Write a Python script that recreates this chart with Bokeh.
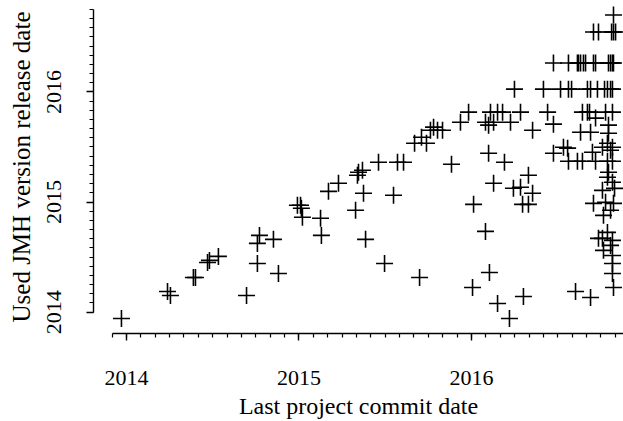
from bokeh.plotting import figure
from bokeh.models import Range1d, FixedTicker
from bokeh.embed import file_html
from bokeh.resources import INLINE

# Last project commit date (decimal year)
commit_date = [
    2013.971, 2014.238, 2014.255, 2014.388, 2014.400, 2014.470, 2014.481, 2014.533,
    2014.696, 2014.759, 2014.771, 2014.759, 2014.852, 2014.881, 2014.991, 2015.009,
    2015.014, 2015.020, 2015.125, 2015.130, 2015.171, 2015.229, 2015.328, 2015.339,
    2015.345, 2015.368, 2015.374, 2015.386, 2015.461, 2015.496, 2015.548, 2015.571,
    2015.606, 2015.670, 2015.710, 2015.739, 2015.762, 2015.780, 2015.803, 2015.832,
    2015.884, 2015.699, 2015.936, 2015.983, 2016.012, 2016.081, 2016.104, 2016.006,
    2016.151, 2016.301, 2016.220, 2016.296, 2016.330, 2016.354, 2016.249, 2016.417,
    2016.110, 2016.151, 2016.180, 2016.284, 2016.441, 2016.081, 2016.099, 2016.128,
    2016.226, 2016.354, 2016.099, 2016.191, 2016.330, 2016.128, 2016.243, 2016.284,
    2016.823, 2016.707, 2016.736, 2016.812, 2016.823, 2016.835,
    2016.475, 2016.562, 2016.614, 2016.620, 2016.632, 2016.649, 2016.661, 2016.707,
    2016.719, 2016.794, 2016.806, 2016.817, 2016.823,
    2016.516, 2016.562, 2016.580, 2016.672, 2016.690, 2016.730, 2016.771, 2016.788,
    2016.806, 2016.817,
    2016.643, 2016.672, 2016.684, 2016.777, 2016.817,
    2016.475, 2016.719, 2016.632, 2016.690, 2016.794, 2016.794, 2016.788, 2016.817,
    2016.475, 2016.533, 2016.557, 2016.701, 2016.759, 2016.806,
    2016.562, 2016.614, 2016.643, 2016.719, 2016.788, 2016.817,
    2016.788, 2016.794, 2016.759, 2016.817, 2016.829, 2016.707, 2016.777, 2016.823,
    2016.806, 2016.765, 2016.788, 2016.759, 2016.817, 2016.736, 2016.765, 2016.806,
    2016.817, 2016.817, 2016.817, 2016.823, 2016.603, 2016.690,
]

# Used JMH version release date (decimal year)
jmh_release_date = [
    2013.942, 2014.187, 2014.151, 2014.315, 2014.315, 2014.451, 2014.470, 2014.506,
    2014.151, 2014.442, 2014.697, 2014.624, 2014.661, 2014.351, 2014.970, 2014.970,
    2014.943, 2014.861, 2014.852, 2014.697, 2015.097, 2015.170, 2014.925, 2015.243,
    2015.270, 2015.288, 2015.079, 2014.661, 2015.361, 2014.442, 2015.061, 2015.361,
    2015.361, 2015.534, 2015.588, 2015.534, 2015.652, 2015.680, 2015.652, 2015.652,
    2015.343, 2014.315, 2015.725, 2015.816, 2014.979, 2014.733, 2014.360, 2014.224,
    2014.078, 2014.142, 2013.942, 2014.979, 2014.979, 2015.079, 2016.025, 2016.025,
    2015.816, 2015.816, 2015.816, 2015.816, 2015.816, 2015.725, 2015.698, 2015.725,
    2015.725, 2015.652, 2015.443, 2015.361, 2015.243, 2015.170, 2015.125, 2015.134,
    2016.699, 2016.544, 2016.544, 2016.544, 2016.544, 2016.544,
    2016.262, 2016.262, 2016.262, 2016.262, 2016.262, 2016.262, 2016.262, 2016.262,
    2016.262, 2016.262, 2016.262, 2016.262, 2016.262,
    2016.025, 2016.025, 2016.025, 2016.025, 2016.025, 2016.025, 2016.025, 2016.025,
    2016.025, 2016.025,
    2015.816, 2015.816, 2015.816, 2015.816, 2015.816,
    2015.707, 2015.762, 2015.634, 2015.634, 2015.698, 2015.625, 2015.534, 2015.498,
    2015.443, 2015.498, 2015.489, 2015.452, 2015.498, 2015.470,
    2015.370, 2015.370, 2015.370, 2015.370, 2015.370, 2015.370,
    2015.225, 2015.270, 2015.106, 2015.179, 2015.124, 2014.988, 2014.997, 2014.988,
    2014.925, 2014.879, 2014.724, 2014.670, 2014.652, 2014.670, 2014.561, 2014.606,
    2014.515, 2014.442, 2014.351, 2014.224, 2014.187, 2014.133,
]

year_ticks = [2014, 2015, 2016]
year_labels = ["2014", "2015", "2016"]

x_title = "Last project commit date"
y_title = "Used JMH version release date"

FONT = "Liberation Serif"

p = figure(
    width=623, height=421,
    output_backend="svg", toolbar_location=None,
    x_range=Range1d(2013.809, 2016.881),
    y_range=Range1d(2013.806, 2016.83),
    min_border_left=93, min_border_bottom=88,
    min_border_top=0, min_border_right=0,
)
p.outline_line_color = None
p.xgrid.visible = False
p.ygrid.visible = False
p.background_fill_color = "white"
p.border_fill_color = "white"

x_minor = [2013 + 11 / 12 + k / 12 for k in range(36)]
y_minor = [2014 + k / 12 for k in range(34)]

p.xaxis.ticker = FixedTicker(ticks=year_ticks, minor_ticks=x_minor)
p.yaxis.ticker = FixedTicker(ticks=year_ticks, minor_ticks=y_minor)
p.xaxis.major_label_overrides = dict(zip(year_ticks, year_labels))
p.yaxis.major_label_overrides = dict(zip(year_ticks, year_labels))
p.xaxis.bounds = (2013 + 11 / 12, 2016.95)
p.yaxis.bounds = (2014, 2016.75)

for ax in (p.xaxis[0], p.yaxis[0]):
    ax.axis_line_color = "black"
    ax.axis_line_width = 1.4
    ax.major_tick_line_color = "black"
    ax.major_tick_line_width = 1.4
    ax.minor_tick_line_color = "black"
    ax.minor_tick_line_width = 1.2
    ax.major_tick_in = 0
    ax.major_tick_out = 7
    ax.minor_tick_in = 0
    ax.minor_tick_out = 4
    ax.major_label_text_font = FONT
    ax.major_label_text_font_size = "22px"
    ax.major_label_text_color = "black"
    ax.axis_label_text_font = FONT
    ax.axis_label_text_font_style = "normal"
    ax.axis_label_text_color = "black"

p.xaxis.axis_label = x_title
p.yaxis.axis_label = y_title
p.xaxis.axis_label_text_font_size = "24px"
p.yaxis.axis_label_text_font_size = "25px"
p.xaxis.major_label_standoff = 30
p.xaxis.axis_label_standoff = 5
p.yaxis.major_label_orientation = "vertical"
p.yaxis.major_label_standoff = 25
p.yaxis.axis_label_standoff = 10

p.scatter(commit_date, jmh_release_date, marker="cross", size=17,
          line_color="black", line_width=1.6)

open("out.html", "w").write(file_html(p, INLINE))
